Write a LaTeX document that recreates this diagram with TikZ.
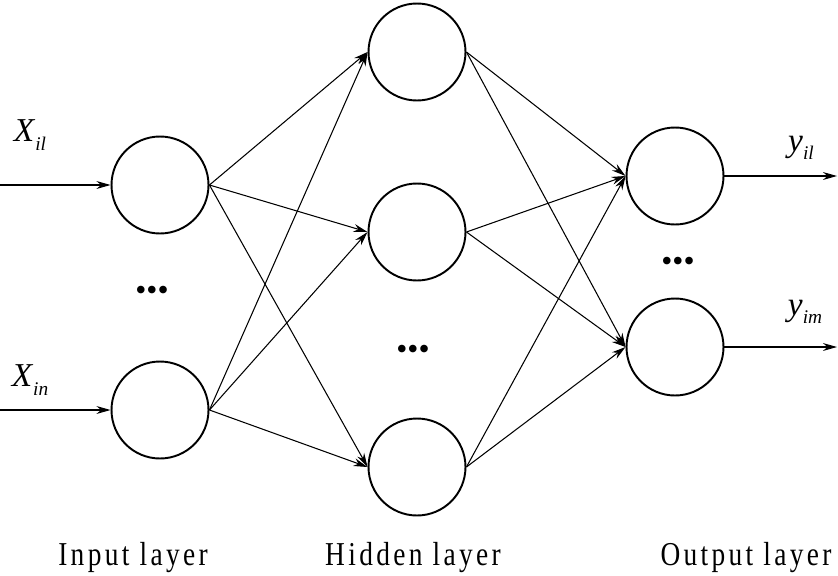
\documentclass[tikz,border=0pt]{standalone}
\usepackage{fontspec}
\setmainfont{Liberation Serif}
\usetikzlibrary{arrows.meta, positioning}

% italic symbol with italic subscript
\newcommand{\sigsub}[2]{\textit{#1}\raisebox{-0.55ex}{\fontsize{11}{12}\selectfont\textit{#2}}}

\begin{document}
\begin{tikzpicture}[x=0.02cm, y=-0.02cm,
    neuron/.style={circle, draw, line width=1.1pt, minimum size=1.94cm, inner sep=0pt},
    conn/.style={-{Stealth[length=8pt, width=4.5pt]}, line width=0.6pt},
    sig/.style={font=\fontsize{19}{22}\selectfont},
    layername/.style={anchor=base, font=\fontsize{19}{22}\selectfont\addfontfeature{FakeStretch=0.82, LetterSpace=10}},
    vdots/.style={inner sep=0pt, font=\fontsize{18}{18}\selectfont}]
  \useasboundingbox (0,0) rectangle (838,575);

  % neurons
  \node[neuron] (in1) at (160,185) {};
  \node[neuron] (in2) at (160,410) {};
  \node[neuron] (hid1) at (417,52) {};
  \node[neuron] (hid2) at (417,232) {};
  \node[neuron] (hid3) at (417,467) {};
  \node[neuron] (out1) at (675,176) {};
  \node[neuron] (out2) at (675,347) {};

  % free ends of the outer arrows
  \coordinate (src1) at (0,185);
  \coordinate (src2) at (0,410);
  \coordinate (dst1) at (837,176);
  \coordinate (dst2) at (837,347);

  \draw[conn] (src1) -- (in1);
  \draw[conn] (src2) -- (in2);
  \draw[conn] (out1) -- (dst1);
  \draw[conn] (out2) -- (dst2);

  \foreach \i in {1,2}
    \foreach \h in {1,2,3}
      \draw[conn] (in\i.east) -- (hid\h.west);
  \foreach \h in {1,2,3}
    \foreach \o in {1,2}
      \draw[conn] (hid\h.east) -- (out\o.west);

  % signal labels
  \node[sig] (xil) at (30,135) {\sigsub{X}{il}};
  \node[sig] (xin) at (30,380) {\sigsub{X}{in}};
  \node[sig] (yil) at (801,148) {\sigsub{y}{il}};
  \node[sig] (yim) at (805,312) {\sigsub{y}{im}};

  % dots
  \node[vdots] (dotsin) at (152,293) {\textbullet\textbullet\textbullet};
  \node[vdots] (dotshid) at (413,352) {\textbullet\textbullet\textbullet};
  \node[vdots] (dotsout) at (678,264) {\textbullet\textbullet\textbullet};

  % layer names
  \node[layername] (inname) at (133,565) {Input layer};
  \node[layername] (hidname) at (413,565) {Hidden layer};
  \node[layername] (outname) at (746,565) {Output layer};
\end{tikzpicture}
\end{document}
